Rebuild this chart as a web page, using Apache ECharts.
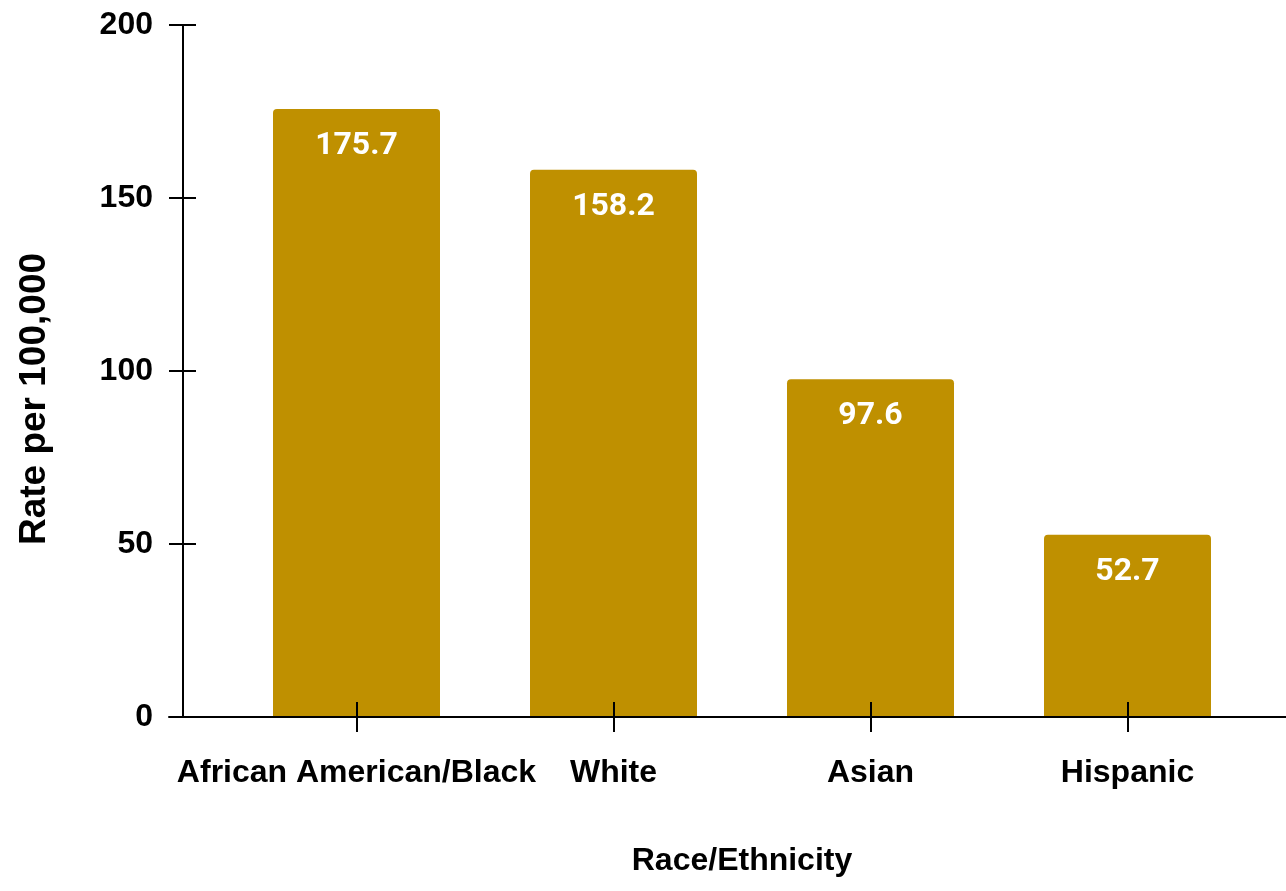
<!DOCTYPE html>
<html>
<head>
<meta charset="utf-8">
<script src="https://cdn.jsdelivr.net/npm/echarts@6/dist/echarts.min.js"></script>
<style>html,body{margin:0;padding:0;background:#fff}#c{width:1286px;height:891px}</style>
</head>
<body>
<div id="c"></div>
<script>
const categories = ['African American/Black', 'White', 'Asian', 'Hispanic'];
const rates = [175.7, 158.2, 97.6, 52.7];
const yMin = 0, yMax = 200, yInterval = 50;

const chart = echarts.init(document.getElementById('c'));
const axisFont = { fontFamily: 'Liberation Sans', fontWeight: 'bold', fontSize: 32, color: '#000' };
const lineStyle = { color: '#000', width: 2 };
chart.setOption({
  animation: false,
  grid: [
    { left: 228, right: 30, top: 25, bottom: 174 },
    { left: 169, right: 0, top: 25, bottom: 174 }
  ],
  xAxis: [
    {
      type: 'category', data: categories, gridIndex: 0, z: 5,
      axisLine: { show: false },
      axisTick: { show: true, alignWithLabel: true, length: 15, lineStyle },
      axisLabel: Object.assign({ margin: 40, interval: 0 }, axisFont),
      name: 'Race/Ethnicity', nameLocation: 'middle', nameGap: 128,
      nameTextStyle: axisFont
    },
    {
      type: 'category', data: categories, gridIndex: 0, z: 5,
      position: 'bottom',
      axisLine: { show: false },
      axisTick: { show: true, alignWithLabel: true, inside: true, length: 15, lineStyle },
      axisLabel: { show: false }
    },
    {
      type: 'value', gridIndex: 1, min: 0, max: 1, z: 5,
      axisLine: { show: true, lineStyle },
      axisTick: { show: false }, axisLabel: { show: false }, splitLine: { show: false }
    }
  ],
  yAxis: [
    {
      type: 'value', gridIndex: 0, min: yMin, max: yMax, interval: yInterval,
      offset: 45, position: 'left', z: 5,
      axisLine: { show: true, lineStyle },
      axisTick: { show: true, length: 14, lineStyle },
      axisLabel: Object.assign({ margin: 30 }, axisFont),
      splitLine: { show: false },
      name: 'Rate per 100,000', nameLocation: 'middle', nameGap: 130,
      nameTextStyle: Object.assign({}, axisFont, { fontSize: 37, padding: [0, 56, 0, 0] })
    },
    {
      type: 'value', gridIndex: 0, min: yMin, max: yMax, interval: yInterval,
      offset: 45, position: 'left', z: 5,
      axisLine: { show: false },
      axisTick: { show: true, inside: true, length: 13, lineStyle },
      axisLabel: { show: false },
      splitLine: { show: false }
    },
    {
      type: 'value', gridIndex: 1, show: false, min: 0, max: 1
    }
  ],
  series: [{
    type: 'bar',
    xAxisIndex: 0, yAxisIndex: 0,
    data: rates,
    barWidth: 167,
    itemStyle: { color: '#BF9000', borderRadius: [4, 4, 0, 0] },
    label: {
      show: true, position: 'insideTop', distance: 21,
      color: '#fff', fontFamily: 'Roboto', fontWeight: 'bold', fontSize: 32
    }
  }]
});
</script>
</body>
</html>
